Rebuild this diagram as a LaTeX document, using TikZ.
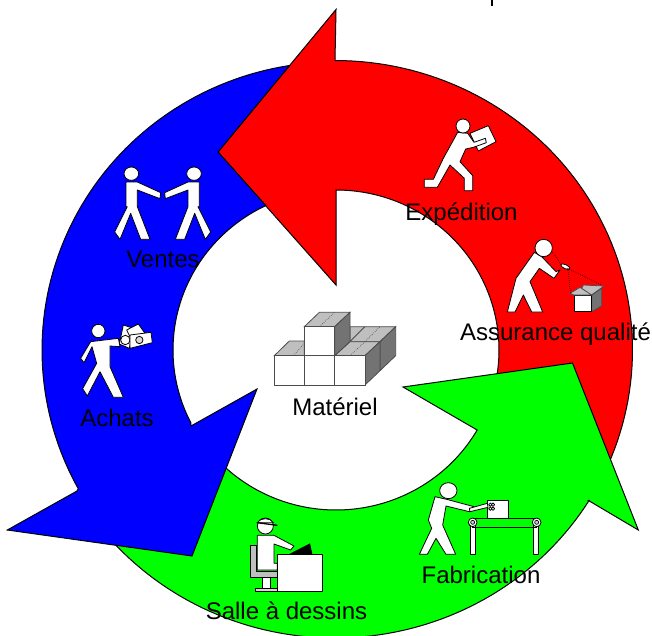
\documentclass[tikz,border=0pt]{standalone}
\usepackage{fontspec}
\setmainfont{Liberation Sans}
\tikzset{
  band/.style={draw=black,line width=0.75pt,line join=miter},
  fig/.style={draw=black,fill=white,line width=0.6pt,line join=round},
  grayfig/.style={draw=black,fill=gray!55,line width=0.5pt},
  darkfig/.style={draw=black!70,fill=gray!90!black,line width=0.6pt},
  topfig/.style={draw=black!70,fill=gray!50,line width=0.6pt},
  dots/.style={draw=black,line width=0.5pt,densely dotted},
  lab/.style={anchor=base,font=\fontsize{18}{18}\selectfont,inner sep=0pt},
  zone/.style={x=.25pt,y=-.25pt},
  arcpts/.style={samples=70}
}
\begin{document}
\begin{tikzpicture}[x=.75pt,y=-.75pt]
\useasboundingbox (0,0) rectangle (652,635);
\fill[white] (0,0) rectangle (652,635);
% bands
\path[band,fill=red] (336,9.5) -- (218,152) -- (336,285) -- (336,190)
  -- plot[arcpts,domain=-90:15] ({336+163*cos(\x)},{350+160*sin(\x)})
  -- plot[arcpts,domain=25:-90] ({335+297.5*cos(\x)},{350+289.5*sin(\x)}) -- cycle;
\path[band,fill=green] (403,387) -- (572.5,363) -- (638.3,530) -- (588.5,500.5)
  -- plot[arcpts,domain=31.5:140] ({335+298*cos(\x)},{350+288*sin(\x)})
  -- plot[arcpts,domain=150:30] ({336+163*cos(\x)},{350+160*sin(\x)}) -- cycle;
\path[band,fill=blue] (289.5,65.5)
  -- plot[arcpts,domain=-99:-208.8] ({335+293*cos(\x)},{350+288*sin(\x)})
  -- (77,491) -- (7.3,530) -- (192,556) -- (257,389) -- (191,426)
  -- plot[arcpts,domain=-207:-115.5] ({336+163*cos(\x)},{350+160*sin(\x)})
  -- (218,152) -- cycle;
% tick
\draw[black,line width=1.5pt] (492,0) -- (492,6);
% Expedition / Assurance qualite
\begin{scope}[shift={(400,100)},zone]
  \path[fig] (210,100) -- (265,77) -- (288,125) -- (235,153) -- cycle;
  \path[fig] (173,97) -- (203,100) -- (222,127) -- (256,115) -- (259,128) -- (220,142) -- (197,147) -- (180,185) -- (218,227) -- (218,272) -- (193,272) -- (193,235) -- (150,195) -- (112,262) -- (73,262) -- (73,238) -- (100,238) -- (130,175) -- cycle;
  \path[fig] (189,78) circle[radius=21];
  % inspector
  \path[fig] (403,457) -- (425,470) -- (468,515) -- (480,510) -- (462,535) -- (418,505) -- (390,545) -- (428,636) -- (395,636) -- (370,585) -- (345,636) -- (322,636) -- (348,535) -- cycle;
  \path[fig] (431,444) circle[radius=26];
  \path[fig] (496,500) ellipse[x radius=15,y radius=6,rotate=-25];
  \path[dots] (458,457) -- (485,495);
  \path[dots] (503,505) -- (512,580);
  \path[dots] (503,505) -- (605,555);
  \path[topfig] (550,555) -- (612,558) -- (575,585) -- (540,575) -- cycle;
  \path[darkfig] (575,585) -- (605,565) -- (605,618) -- (575,635) -- cycle;
  \path[fig] (522,585) rectangle (575,635);
  \path[topfig] (510,580) -- (540,562) -- (575,585) -- (522,585) -- cycle;
\end{scope}
% Ventes / Achats
\begin{scope}[shift={(70,150)},zone]
  \path[fig] (168,96) -- (202,96) -- (272,128) -- (270,146) -- (202,120) -- (202,170) -- (240,268) -- (212,268) -- (182,190) -- (150,268) -- (134,246) -- (172,170) -- (168,170) -- cycle;
  \path[fig] (184,71) ellipse[x radius=22,y radius=20];
  \path[fig] (388,96) -- (354,96) -- (284,128) -- (286,146) -- (354,120) -- (354,170) -- (316,268) -- (344,268) -- (374,190) -- (406,268) -- (422,246) -- (384,170) -- (388,170) -- cycle;
  \path[fig] (372,71) ellipse[x radius=22,y radius=20];
  % buyer
  \path[fig] (148,582) -- (160,525) -- (190,535) -- (178,595) -- cycle;
  \path[fig] (170,540) -- (205,522) -- (225,550) -- (190,580) -- cycle;
  \path[fig] (166,570) circle[radius=14];
  \path[fig] (180,555) -- (243,547) -- (247,578) -- (180,595) -- cycle;
  \path[fig,fill=gray!30] (208,570) circle[radius=11];
  \path[fig] (62,575) -- (145,565) -- (150,590) -- (120,588) -- (120,650) -- (160,742) -- (130,742) -- (90,665) -- (52,738) -- (38,716) -- (80,640) -- (66,590) -- (42,638) -- (32,625) -- cycle;
  \path[fig] (85,543) circle[radius=20];
\end{scope}
% Salle a dessins / Fabrication
\begin{scope}[shift={(200,470)},zone]
  \path[grayfig,fill=gray!50] (150,225) -- (170,225) -- (170,305) -- (232,305) -- (232,322) -- (150,322) -- cycle;
  \path[fig] (188,322) rectangle (210,355);
  \path[grayfig,fill=gray!30] (165,355) rectangle (232,363);
  \path[fig] (172,196) -- (222,196) -- (282,228) -- (272,240) -- (222,222) -- (222,280) -- (232,280) -- (232,300) -- (172,300) -- cycle;
  \path[fig] (196,168) circle[radius=24];
  \path[draw=black,fill=white,line width=0.6pt] (172,158) .. controls (180,142) and (212,142) .. (220,158) -- cycle;
  \path[draw=black,line width=1pt] (172,158) -- (232,166);
  \path[fill=black] (268,252) -- (330,220) -- (337,252) -- cycle;
  \path[fig] (232,253) rectangle (368,363);
  % conveyor
  \path[fig] (810,157) rectangle (826,253);
  \path[fig] (1000,157) rectangle (1016,253);
  \path[fig] (862,92) rectangle (925,145);
  \path[draw=black,line width=0.6pt] (818,145) rectangle (1010,172);
  \path[fig] (818,157) circle[radius=13];
  \path[fig] (1010,157) circle[radius=13];
  \path[grayfig,fill=gray!40] (818,157) circle[radius=6];
  \path[grayfig,fill=gray!40] (1010,157) circle[radius=6];
  \path[fig] (705,80) -- (740,88) -- (822,110) -- (808,125) -- (738,108) -- (728,165) -- (767,253) -- (738,253) -- (708,205) -- (682,253) -- (658,253) -- (695,175) -- (685,150) -- cycle;
  \path[fig] (808,115) -- (862,100) -- (864,112) -- (810,125) -- cycle;
  \path[fig] (871,104) circle[radius=5];
  \path[fig] (879,104) circle[radius=5];
  \path[fig] (871,116) circle[radius=5];
  \path[fig] (879,116) circle[radius=5];
  \path[fig] (745,62) ellipse[x radius=26,y radius=24];
\end{scope}
% Materiel cubes
\begin{scope}[shift={(260,300)},zone]
  \path[topfig] (270,80) -- (315,80) -- (270,125) -- cycle;
  \path[topfig] (270,125) -- (315,80) -- (407,80) -- (360,125) -- cycle;
  \path[darkfig] (360,125) -- (407,80) -- (407,167) -- (360,212) -- cycle;
  \path[topfig] (43,167) -- (88,123) -- (133,123) -- (133,167) -- cycle;
  \path[topfig] (224,167) -- (270,125) -- (360,125) -- (315,167) -- cycle;
  \path[darkfig] (315,167) -- (360,125) -- (360,212) -- (315,255) -- cycle;
  \path[topfig] (133,80) -- (178,37) -- (270,37) -- (224,80) -- cycle;
  \path[darkfig] (224,80) -- (270,37) -- (270,125) -- (224,167) -- cycle;
  \path[draw=black!70,fill=white,line width=0.7pt] (133,80) rectangle (224,167);
  \path[draw=black!70,fill=white,line width=0.7pt] (43,167) rectangle (133,255);
  \path[draw=black!70,fill=white,line width=0.7pt] (133,167) rectangle (224,255);
  \path[draw=black!70,fill=white,line width=0.7pt] (224,167) rectangle (315,255);
  \path[dots,draw=black!70] (178,80) -- (224,37);
  \path[dots,draw=black!70] (100,167) -- (133,130);
  \path[dots,draw=black!70] (270,167) -- (315,125);
  \path[dots,draw=black!70] (315,125) -- (360,80);
\end{scope}
% labels
\node[lab] (expedition) at (461.5,220) {Expédition};
\node[lab] (qualite) at (555.5,340.5) {Assurance qualité};
\node[lab] (ventes) at (163,267) {Ventes};
\node[lab] (achats) at (117,426) {Achats};
\node[lab] (materiel) at (335,415) {Matériel};
\node[lab] (fabrication) at (481,583) {Fabrication};
\node[lab] (salle) at (286.5,619) {Salle à dessins};
\end{tikzpicture}
\end{document}
